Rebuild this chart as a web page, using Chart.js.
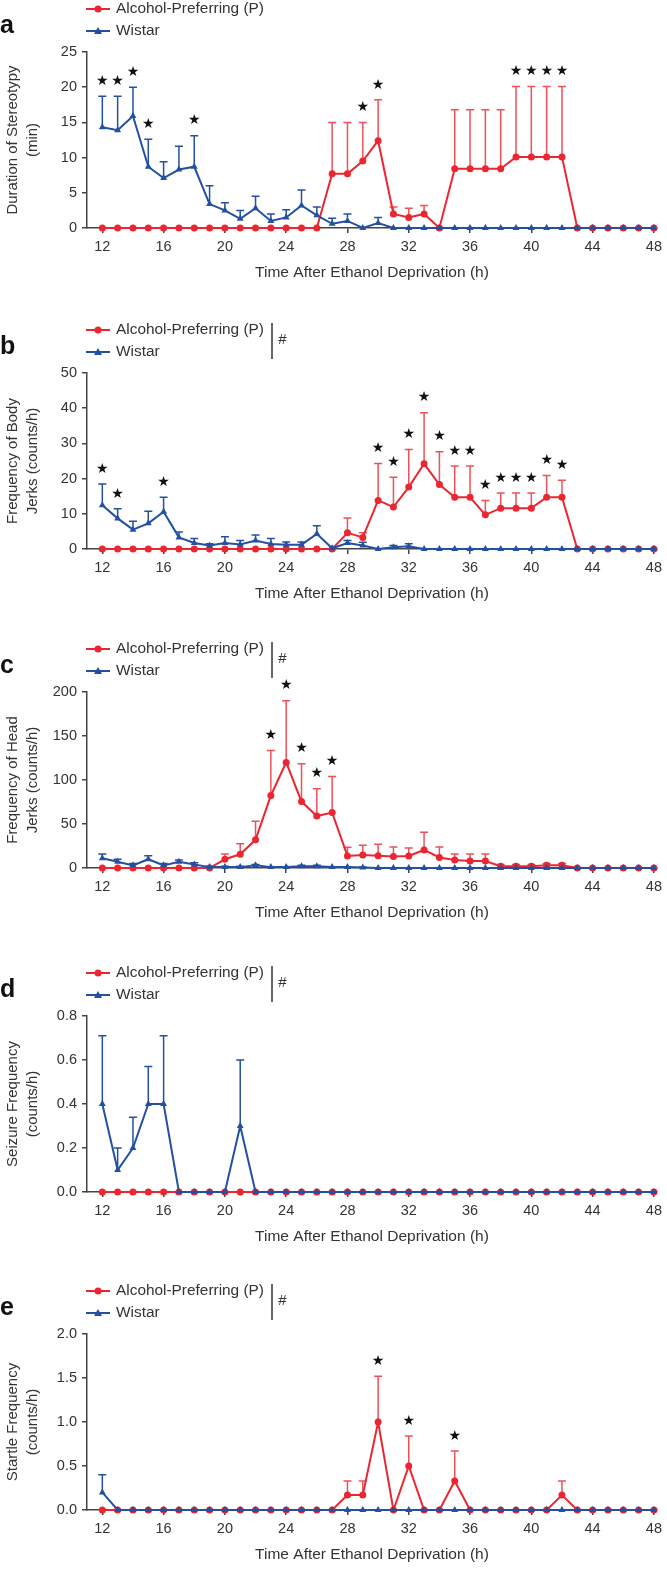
<!DOCTYPE html>
<html>
<head>
<meta charset="utf-8">
<script src="https://cdn.jsdelivr.net/npm/chart.js@4.4.1/dist/chart.umd.min.js"></script>
<style>
  body { margin: 0; background: #fff; width: 667px; height: 1569px; overflow: hidden; position: relative; }
  canvas { position: absolute; left: 0; }
</style>
</head>
<body>
<canvas id="pa" width="667" height="300" style="top:0px"></canvas>
<canvas id="pb" width="667" height="300" style="top:321px"></canvas>
<canvas id="pc" width="667" height="300" style="top:640px"></canvas>
<canvas id="pd" width="667" height="300" style="top:964px"></canvas>
<canvas id="pe" width="667" height="300" style="top:1282px"></canvas>
<script>
// hours after deprivation
const hours = [12,13,14,15,16,17,18,19,20,21,22,23,24,25,26,27,28,29,30,31,32,33,34,35,36,37,38,39,40,41,42,43,44,45,46,47,48];
const xTicks = [12,16,20,24,28,32,36,40,44,48];

// a: duration of stereotypy (min)
const pA  = [0,0,0,0,0,0,0,0,0,0,0,0,0,0,0, 7.7,7.7,9.5,12.4,2.0,1.5,2.0,0, 8.4,8.4,8.4,8.4,10.1,10.1,10.1,10.1, 0,0,0,0,0,0];
const pAe = [0,0,0,0,0,0,0,0,0,0,0,0,0,0,0, 7.3,7.3,5.5,5.8,1.0,1.3,1.2,0, 8.4,8.4,8.4,8.4,10,10,10,10, 0,0,0,0,0,0];
const wA  = [14.3,13.9,15.9,8.7,7.1,8.3,8.7,3.4,2.5,1.3,2.8,1.0,1.5,3.2,1.8,0.6,1.0,0,0.7, 0,0,0,0,0,0,0,0,0,0,0,0,0,0,0,0,0,0];
const wAe = [4.4,4.8,4.1,3.9,2.3,3.3,4.4,2.6,1.1,1.2,1.7,1.0,1.1,2.2,1.2,0.8,1.0,0,0.8, 0,0,0,0,0,0,0,0,0,0,0,0,0,0,0,0,0,0];
const starsA = { p: [29,30,39,40,41,42], w: [12,13,14,15,18] };
const yTicksA = [0,5,10,15,20,25];

// b: body jerks (counts/h)
const pB  = [0,0,0,0,0,0,0,0,0,0,0,0,0,0,0,0, 4.6,3.3,13.8,11.9,17.6,24.2,18.3,14.7,14.7,9.7,11.6,11.6,11.6,14.7,14.7, 0,0,0,0,0,0];
const pBe = [0,0,0,0,0,0,0,0,0,0,0,0,0,0,0,0, 4.2,1.3,10.5,8.5,10.7,14.5,9.3,8.9,8.9,4.1,4.3,4.3,4.3,6.2,4.8, 0,0,0,0,0,0];
const wB  = [12.4,8.7,5.5,7.3,10.6,3.3,1.7,1.0,1.7,1.3,2.4,1.4,1.2,1.2,4.3,0.2,1.7,1.0,0,0.5,0.8, 0,0,0,0,0,0,0,0,0,0,0,0,0,0,0,0];
const wBe = [6.1,2.7,2.4,3.4,4.1,1.5,1.3,0.5,1.8,1.1,1.6,1.6,0.8,0.8,2.3,0,0.7,0.9,0,0.5,0.7, 0,0,0,0,0,0,0,0,0,0,0,0,0,0,0,0];
const starsB = { p: [30,31,32,33,34,35,36,37,38,39,40,41,42], w: [12,13,16] };
const yTicksB = [0,10,20,30,40,50];

// c: head jerks (counts/h)
const pC  = [0,0,0,0,0,0,0,0, 9.9,15.6,32,82.4,120,75.5,59,63,13.7,14.8,14,13,13.7,20.5,12,9,8,8,2,2,2,3,3, 0,0,0,0,0,0];
const pCe = [0,0,0,0,0,0,0,0, 6,12,21,51,70,43,31,41,10,11,13,11,9,20,12,7,8,8,2,2,2,2,2, 0,0,0,0,0,0];
const wC  = [11,7,3,10,3,7,4,1,1,1,3,1,1,2,2,1,1,0.5, 0,0,0,0,0,0,0,0,0,0,0,0,0,0,0,0,0,0,0];
const wCe = [5,3,2,4,2,2,2,1,1,1,1,0.5,0.5,1,1,0.5,0.5,0.5, 0,0,0,0,0,0,0,0,0,0,0,0,0,0,0,0,0,0,0];
const starsC = { p: [23,24,25,26,27], w: [] };
const yTicksC = [0,50,100,150,200];

// d: seizures (counts/h)
const pD  = [0,0,0,0,0,0,0,0,0,0,0,0,0,0,0,0,0,0,0,0,0,0,0,0,0,0,0,0,0,0,0,0,0,0,0,0,0];
const pDe = [0,0,0,0,0,0,0,0,0,0,0,0,0,0,0,0,0,0,0,0,0,0,0,0,0,0,0,0,0,0,0,0,0,0,0,0,0];
const wD  = [0.4,0.1,0.2,0.4,0.4,0,0,0,0,0.3,0, 0,0,0,0,0,0,0,0,0,0,0,0,0,0,0,0,0,0,0,0,0,0,0,0,0,0];
const wDe = [0.31,0.1,0.14,0.17,0.31,0,0,0,0,0.3,0, 0,0,0,0,0,0,0,0,0,0,0,0,0,0,0,0,0,0,0,0,0,0,0,0,0,0];
const starsD = { p: [], w: [] };
const yTicksD = [0,0.2,0.4,0.6,0.8];

// e: startle (counts/h)
const pE  = [0,0,0,0,0,0,0,0,0,0,0,0,0,0,0,0, 0.17,0.17,1.0,0,0.5,0,0,0.33, 0,0,0,0,0,0, 0.17, 0,0,0,0,0,0];
const pEe = [0,0,0,0,0,0,0,0,0,0,0,0,0,0,0,0, 0.16,0.16,0.52,0,0.34,0,0,0.34, 0,0,0,0,0,0, 0.16, 0,0,0,0,0,0];
const wE  = [0.2, 0,0,0,0,0,0,0,0,0,0,0,0,0,0,0,0,0,0,0,0,0,0,0,0,0,0,0,0,0,0,0,0,0,0,0,0];
const wEe = [0.2, 0,0,0,0,0,0,0,0,0,0,0,0,0,0,0,0,0,0,0,0,0,0,0,0,0,0,0,0,0,0,0,0,0,0,0,0];
const starsE = { p: [30,32,35], w: [] };
const yTicksE = [0,0.5,1.0,1.5,2.0];

const RED = 'rgb(236,38,48)';
const RED_ERR = 'rgba(236,50,60,0.85)';
const BLUE = 'rgb(36,80,162)';
const TXT = '#333';
const AXIS = '#444';
const FONT = '"Liberation Sans", Arial, sans-serif';
Chart.defaults.font.family = FONT;

// error bars, stars, legend, panel letter
const deco = {
  id: 'deco',
  beforeDatasetsDraw(chart) {
    const ctx = chart.ctx, xs = chart.scales.x, ys = chart.scales.y;
    chart.data.datasets.forEach(ds => {
      ctx.save();
      ctx.strokeStyle = ds.errColor;
      ctx.lineWidth = 1.5;
      ds.data.forEach((p, j) => {
        const e = ds.errs[j];
        if (!e) return;
        const px = xs.getPixelForValue(p.x);
        const y0 = ys.getPixelForValue(p.y), y1 = ys.getPixelForValue(p.y + e);
        ctx.beginPath();
        ctx.moveTo(px, y0); ctx.lineTo(px, y1);
        ctx.moveTo(px - 4, y1); ctx.lineTo(px + 4, y1);
        ctx.stroke();
      });
      ctx.restore();
    });
  },
  afterDraw(chart) {
    const ctx = chart.ctx, xs = chart.scales.x, ys = chart.scales.y;
    const o = chart.options.plugins.deco;
    ctx.save();
    // stars
    ctx.fillStyle = '#111';
    ctx.font = '14px "DejaVu Sans"';
    ctx.textAlign = 'center';
    ctx.textBaseline = 'middle';
    [['p', 0], ['w', 1]].forEach(([k, di]) => {
      const ds = chart.data.datasets[di];
      o.stars[k].forEach(h => {
        const j = hours.indexOf(h);
        const top = ds.data[j].y + ds.errs[j];
        ctx.fillText('\u2605', xs.getPixelForValue(h), ys.getPixelForValue(top) - 15);
      });
    });
    // panel letter
    ctx.fillStyle = '#111';
    ctx.font = 'bold 25px ' + FONT;
    ctx.textAlign = 'left';
    ctx.textBaseline = 'alphabetic';
    ctx.fillText(o.letter, 0, 33);
    // legend
    const ly = 9, ly2 = 31;
    ctx.lineWidth = 2;
    ctx.strokeStyle = RED; ctx.fillStyle = RED;
    ctx.beginPath(); ctx.moveTo(86, ly); ctx.lineTo(110, ly); ctx.stroke();
    ctx.beginPath(); ctx.arc(98, ly, 3.5, 0, Math.PI * 2); ctx.fill();
    ctx.strokeStyle = BLUE; ctx.fillStyle = BLUE;
    ctx.beginPath(); ctx.moveTo(86, ly2); ctx.lineTo(110, ly2); ctx.stroke();
    ctx.beginPath(); ctx.moveTo(98, ly2 - 4); ctx.lineTo(102, ly2 + 3); ctx.lineTo(94, ly2 + 3); ctx.closePath(); ctx.fill();
    ctx.fillStyle = TXT;
    ctx.font = '15.4px ' + FONT;
    ctx.textBaseline = 'middle';
    ctx.fillText('Alcohol-Preferring (P)', 116, ly);
    ctx.fillText('Wistar', 116, ly2);
    if (o.bracket) {
      ctx.strokeStyle = TXT; ctx.lineWidth = 1.5;
      ctx.beginPath(); ctx.moveTo(272, 2); ctx.lineTo(272, 38); ctx.stroke();
      ctx.font = 'italic 15px ' + FONT;
      ctx.fillText('#', 278, 19);
    }
    ctx.restore();
  }
};

function pts(vals) { return hours.map((h, i) => ({ x: h, y: vals[i] })); }

function makePanel(id, letter, pv, pe, wv, we, stars, yTicks, yLabel, decimals, bracket) {
  const yMax = yTicks[yTicks.length - 1];
  new Chart(document.getElementById(id), {
    type: 'line',
    data: {
      datasets: [
        { label: 'Alcohol-Preferring (P)', data: pts(pv), errs: pe, errColor: RED_ERR,
          borderColor: RED, backgroundColor: RED, borderWidth: 2, pointStyle: 'circle',
          pointRadius: 3.5, pointBorderWidth: 0, order: 1, clip: false },
        { label: 'Wistar', data: pts(wv), errs: we, errColor: BLUE,
          borderColor: BLUE, backgroundColor: BLUE, borderWidth: 2, pointStyle: 'triangle',
          pointRadius: 4, pointBorderWidth: 0, order: 0, clip: false }
      ]
    },
    options: {
      responsive: false,
      animation: false,
      devicePixelRatio: 1,
      layout: { padding: { top: 52, left: 0, right: 5, bottom: 0 } },
      plugins: {
        legend: { display: false },
        tooltip: { enabled: false },
        deco: { letter: letter, stars: stars, bracket: bracket }
      },
      scales: {
        x: {
          type: 'linear', min: 11, max: 48.2,
          afterBuildTicks: ax => { ax.ticks = xTicks.map(v => ({ value: v })); },
          afterFit: ax => { ax.height = 72; },
          grid: { drawOnChartArea: false, drawTicks: true, tickLength: 5, color: AXIS, lineWidth: 1.5 },
          border: { color: AXIS, width: 1.5 },
          ticks: { color: TXT, font: { size: 14.5 }, padding: 5, maxRotation: 0 },
          title: { display: true, text: 'Time After Ethanol Deprivation (h)', color: TXT,
                   font: { size: 15.5 }, padding: { top: 0, bottom: 18 } }
        },
        y: {
          min: 0, max: yMax,
          afterBuildTicks: ax => { ax.ticks = yTicks.map(v => ({ value: v })); },
          afterFit: ax => { ax.width = 87; },
          grid: { drawOnChartArea: false, drawTicks: true, tickLength: 5, color: AXIS, lineWidth: 1.5 },
          border: { color: AXIS, width: 1.5 },
          ticks: { color: TXT, font: { size: 14.5 }, padding: 5,
                   callback: v => decimals ? v.toFixed(1) : String(v) },
          title: { display: true, text: yLabel, color: TXT,
                   font: { size: 15, lineHeight: 1.33 }, padding: { top: 3, bottom: 0 } }
        }
      }
    },
    plugins: [deco]
  });
}

makePanel('pa', 'a', pA, pAe, wA, wAe, starsA, yTicksA, ['Duration of Stereotypy', '(min)'], false, false);
makePanel('pb', 'b', pB, pBe, wB, wBe, starsB, yTicksB, ['Frequency of Body', 'Jerks (counts/h)'], false, true);
makePanel('pc', 'c', pC, pCe, wC, wCe, starsC, yTicksC, ['Frequency of Head', 'Jerks (counts/h)'], false, true);
makePanel('pd', 'd', pD, pDe, wD, wDe, starsD, yTicksD, ['Seizure Frequency', '(counts/h)'], true, true);
makePanel('pe', 'e', pE, pEe, wE, wEe, starsE, yTicksE, ['Startle Frequency', '(counts/h)'], true, true);
</script>
</body>
</html>
